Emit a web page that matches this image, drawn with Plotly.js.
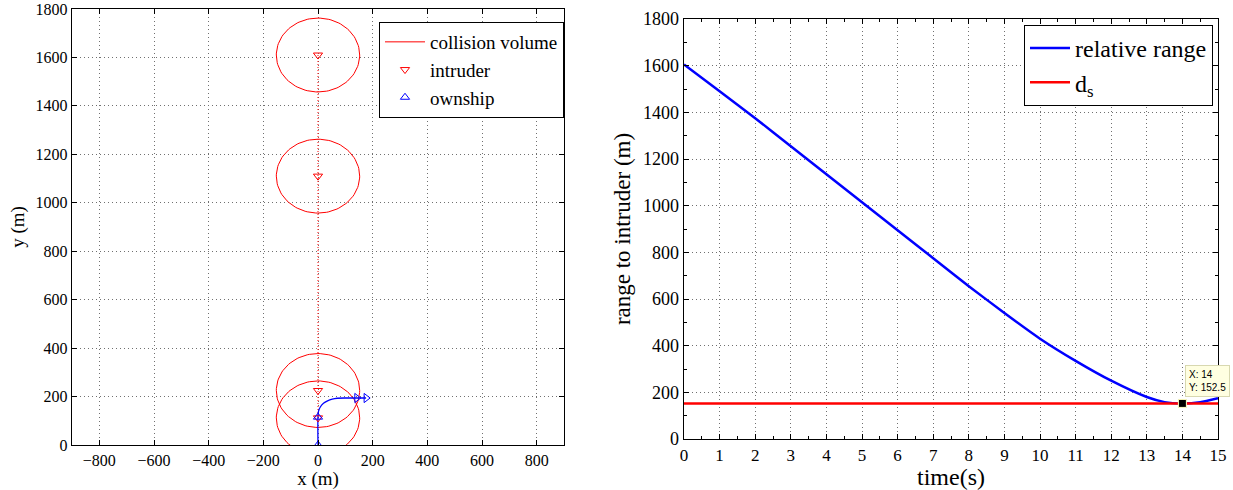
<!DOCTYPE html>
<html>
<head>
<meta charset="utf-8">
<script src="https://cdn.plot.ly/plotly-3.0.1.min.js"></script>
<style>html,body{margin:0;padding:0;background:#fff;}#chart{width:1233px;height:490px;}</style>
</head>
<body>
<div id="chart"></div>
<script>
// ---- data ----
var safeDist = 152.5;
var circleCentersY = [1610, 1110, 225, 112];
var intruderX = [0, 0, 0, 0];
var intruderY = [1610, 1110, 225, 112];
var intruderPathX = [0, 0];
var intruderPathY = [1610, 112];
var ownshipUpX = [0, 0];
var ownshipUpY = [0, 115];
var ownshipRightX = [142, 176];
var ownshipRightY = [194, 194];
var ownshipPathX = [0, 0, 2, 9, 20, 35, 52, 70, 110, 176];
var ownshipPathY = [0, 118, 140, 158, 172, 182, 189, 193, 194, 194];
var timeS = [0, 1, 2, 3, 4, 5, 6, 7, 8, 9, 10, 11, 12, 13, 13.5, 14, 14.5, 15];
var rangeM = [1605, 1490, 1375, 1255, 1135, 1015, 895, 775, 655, 540, 430, 335, 250, 180, 158, 152.5, 158, 175];
var dsTime = [0, 15];
var dsVal = [152.5, 152.5];
var tipX = [14];
var tipY = [152.5];

// circle outlines built from center + radius (library scales place them)
function circlePts(cy, r) {
  var xs = [], ys = [];
  for (var i = 0; i <= 120; i++) {
    var a = 2 * Math.PI * i / 120;
    xs.push(r * Math.cos(a));
    ys.push(cy + r * Math.sin(a));
  }
  return {x: xs, y: ys};
}
var cx = [], cyv = [];
circleCentersY.forEach(function (c, k) {
  var p = circlePts(c, safeDist);
  if (k > 0) { cx.push(null); cyv.push(null); }
  cx = cx.concat(p.x); cyv = cyv.concat(p.y);
});

var serif = 'Liberation Serif';
var traces = [
  {x: cx, y: cyv, mode: 'lines', line: {color: '#ff0000', width: 1}, name: 'collision volume', xaxis: 'x', yaxis: 'y', legend: 'legend'},
  {x: intruderPathX, y: intruderPathY, mode: 'lines', line: {color: '#ff0000', width: 1, dash: '1px,2px'}, showlegend: false, xaxis: 'x', yaxis: 'y'},
  {x: ownshipPathX, y: ownshipPathY, mode: 'lines', line: {color: '#0000ff', width: 1.3, shape: 'spline'}, showlegend: false, xaxis: 'x', yaxis: 'y'},
  {x: intruderX, y: intruderY, mode: 'markers', marker: {symbol: 'triangle-down-open', size: 8, color: '#ff0000', line: {width: 1}}, name: 'intruder', xaxis: 'x', yaxis: 'y', legend: 'legend'},
  {x: ownshipUpX, y: ownshipUpY, mode: 'markers', marker: {symbol: 'triangle-up-open', size: 8, color: '#0000ff', line: {width: 1}}, name: 'ownship', xaxis: 'x', yaxis: 'y', legend: 'legend'},
  {x: ownshipRightX, y: ownshipRightY, mode: 'markers', marker: {symbol: 'triangle-right-open', size: 8, color: '#0000ff', line: {width: 1}}, showlegend: false, xaxis: 'x', yaxis: 'y'},
  {x: timeS, y: rangeM, mode: 'lines', line: {color: '#0000ff', width: 2.5, shape: 'spline', smoothing: 0.6}, name: 'relative range', xaxis: 'x2', yaxis: 'y2', legend: 'legend2'},
  {x: dsTime, y: dsVal, mode: 'lines', line: {color: '#ff0000', width: 2.5}, name: 'd<sub>s</sub>', xaxis: 'x2', yaxis: 'y2', legend: 'legend2'},
  {x: tipX, y: tipY, mode: 'markers', marker: {symbol: 'square', size: 8, color: '#000000', line: {color: '#ffffc0', width: 1}}, showlegend: false, xaxis: 'x2', yaxis: 'y2', cliponaxis: false}
];

var axBase = {
  showline: true, linecolor: '#000', linewidth: 1.3, mirror: 'ticks',
  ticks: 'inside', ticklen: 5, tickcolor: '#000', tickwidth: 1,
  showgrid: true, gridcolor: '#707070', griddash: '1px,3px', gridwidth: 1,
  zeroline: false, automargin: false
};
function ax(extra) { return Object.assign({}, axBase, extra); }

var layout = {
  width: 1233, height: 490,
  margin: {l: 0, r: 0, t: 0, b: 0},
  paper_bgcolor: '#fff', plot_bgcolor: '#fff',
  font: {family: serif, color: '#000', size: 16},
  showlegend: true,
  xaxis: ax({domain: [72/1233, 564/1233], range: [-900, 900], dtick: 200, anchor: 'y',
    tickfont: {family: serif, size: 16, color: '#000'},
    title: {text: 'x (m)', font: {family: serif, size: 19, color: '#000'}, standoff: 4}}),
  yaxis: ax({domain: [1 - 445/490, 1 - 9/490], range: [0, 1800], dtick: 200, anchor: 'x',
    tickfont: {family: serif, size: 16, color: '#000'},
    title: {text: 'y (m)', font: {family: serif, size: 19, color: '#000'}, standoff: 6}}),
  xaxis2: ax({domain: [684/1233, 1218/1233], range: [0, 15], dtick: 1, anchor: 'y2',
    tickfont: {family: serif, size: 17, color: '#000'},
    minor: {dtick: 0.5, ticks: 'inside', ticklen: 3, tickcolor: '#000', showgrid: false},
    title: {text: 'time(s)', font: {family: serif, size: 24, color: '#000'}, standoff: 3}}),
  yaxis2: ax({domain: [1 - 439/490, 1 - 19/490], range: [0, 1800], dtick: 200, anchor: 'x2',
    tickfont: {family: serif, size: 18, color: '#000'},
    minor: {dtick: 100, ticks: 'inside', ticklen: 3, tickcolor: '#000', showgrid: false},
    title: {text: 'range to intruder (m)', font: {family: serif, size: 23, color: '#000'}, standoff: 6}}),
  legend: {x: 564/1233, xanchor: 'right', y: 1 - 22/490, yanchor: 'top',
    bgcolor: '#fff', bordercolor: '#000', borderwidth: 1,
    font: {family: serif, size: 19, color: '#000'}, tracegroupgap: 0, itemwidth: 40},
  legend2: {x: 1213/1233, xanchor: 'right', y: 1 - 25/490, yanchor: 'top',
    bgcolor: '#fff', bordercolor: '#000', borderwidth: 1,
    font: {family: serif, size: 24, color: '#000'}, tracegroupgap: 0, itemwidth: 40},
  annotations: [{
    xref: 'x2', yref: 'y2', x: tipX[0], y: tipY[0],
    text: 'X: ' + tipX[0] + '<br>Y: ' + tipY[0],
    showarrow: false, xanchor: 'left', yanchor: 'bottom', align: 'left',
    xshift: 3, yshift: 6,
    font: {family: 'Liberation Sans', size: 10, color: '#000'},
    bgcolor: '#ffffe1', bordercolor: '#d8d8b0', borderwidth: 1, borderpad: 3
  }]
};

Plotly.newPlot('chart', traces, layout, {displayModeBar: false, staticPlot: true});
</script>
</body>
</html>
